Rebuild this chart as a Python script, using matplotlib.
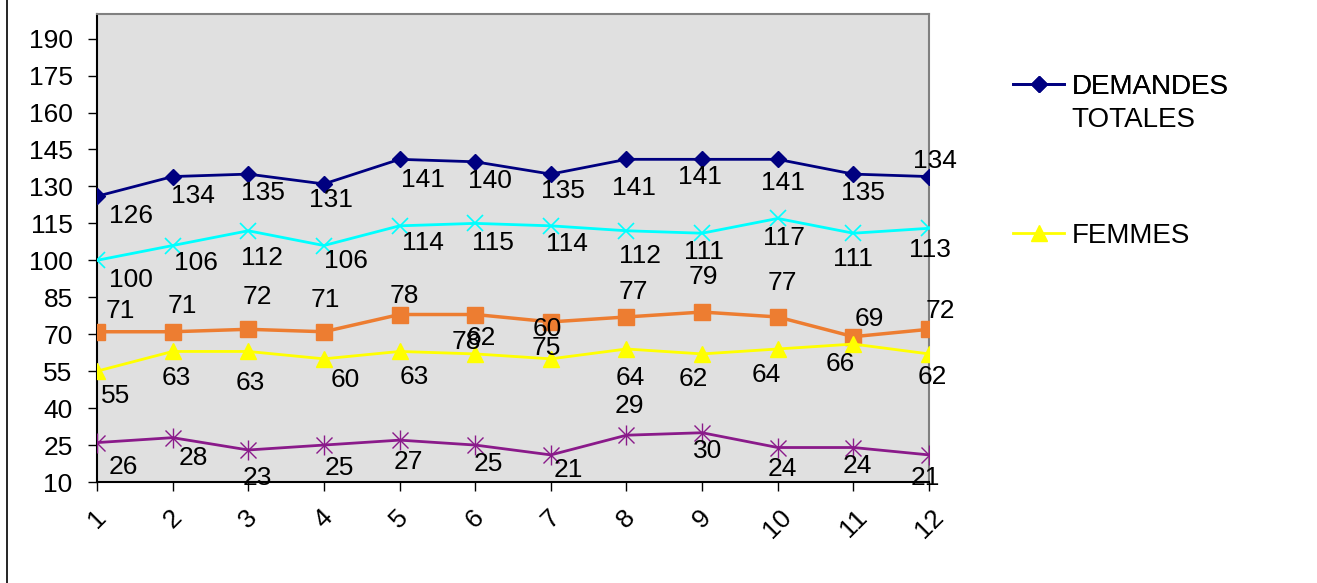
import numpy as np
import matplotlib
matplotlib.use('Agg')
import matplotlib.pyplot as plt
from matplotlib.lines import Line2D

plt.rcParams['font.family'] = ['Liberation Sans', 'DejaVu Sans']

# --- data -------------------------------------------------------------
months = [1, 2, 3, 4, 5, 6, 7, 8, 9, 10, 11, 12]
totales = [126, 134, 135, 131, 141, 140, 135, 141, 141, 141, 135, 134]
hommes = [100, 106, 112, 106, 114, 115, 114, 112, 111, 117, 111, 113]
serie_orange = [71, 71, 72, 71, 78, 78, 75, 77, 79, 77, 69, 72]
femmes = [55, 63, 63, 60, 63, 62, 60, 64, 62, 64, 66, 62]
serie_violet = [26, 28, 23, 25, 27, 25, 21, 29, 30, 24, 24, 21]
y_ticks = list(range(10, 191, 15))

# label offsets in pixels (dx right, dy down) -- layout only
off_tot = [(34, 20), (20, 19), (15, 19), (7, 16), (23, 21), (15, 19),
           (12, 17), (7, 29), (-2, 18), (5, 24), (10, 19), (6, -16)]
off_hom = [(34, 20), (23, 17), (14, 27), (22, 15), (23, 17), (18, 20),
           (16, 18), (14, 25), (2, 19), (6, 20), (0, 26), (1, 22)]
off_ora = [(23, -21), (10, -26), (9, -32), (1, -32), (5, -19), (-9, 27),
           (-5, 26), (7, -25), (1, -35), (5, -34), (16, -18), (11, -18)]
off_fem = [(19, 25), (4, 27), (2, 32), (21, 21), (15, 26), (6, -16),
           (-4, -30), (4, 29), (-9, 25), (-11, 26), (-13, 20), (3, 23)]
off_vio = [(26, 24), (21, 20), (9, 28), (15, 23), (9, 22), (13, 19),
           (17, 15), (3, -29), (6, 18), (5, 21), (4, 18), (-4, 23)]

FS = 19
LFS = 20
fig = plt.figure(figsize=(13.17, 5.83), dpi=100, facecolor='white')
ax = fig.add_axes([97 / 1317, 101 / 583, 832 / 1317, 468 / 583])
ax.set_facecolor('#e0e0e0')

lw = 2.0
h_tot, = ax.plot(months, totales, color='#000080', lw=lw, marker='D', ms=8,
                 mfc='#000080', mec='#000080', zorder=5)
ax.plot(months, hommes, color='#00ffff', lw=lw, marker='x', ms=11,
        mew=1.2, zorder=4)
ax.plot(months, serie_orange, color='#ed7d31', lw=2.5, marker='s', ms=11,
        mfc='#ed7d31', mec='#ed7d31', zorder=4)
h_fem, = ax.plot(months, femmes, color='#ffff00', lw=lw, marker='^', ms=12,
                 mfc='#ffff00', mec='#ffff00', zorder=4)
ax.plot(months, serie_violet, color='#8a1a8a', lw=lw, marker='x', ms=11,
        mew=1.0, zorder=4)
ax.plot(months, serie_violet, ls='none', color='#8a1a8a', marker='|', ms=14,
        mew=1.0, zorder=4)

for vals, offs in [(totales, off_tot), (hommes, off_hom), (serie_orange, off_ora),
                   (femmes, off_fem), (serie_violet, off_vio)]:
    for x, v, (dx, dy) in zip(months, vals, offs):
        ax.annotate(str(v), (x, v), xytext=(dx, -dy), textcoords='offset pixels',
                    ha='center', va='center', fontsize=FS, color='black',
                    zorder=6, annotation_clip=False)

ax.set_xlim(1, 12)
ax.set_ylim(10, 200)
ax.set_xticks(months)
ax.set_xticklabels([str(m) for m in months], rotation=45, ha='center',
                   fontsize=FS)
ax.set_yticks(y_ticks)
ax.set_yticklabels([str(t) for t in y_ticks], fontsize=FS)
ax.tick_params(axis='y', length=6.5, width=1, pad=11, direction='out')
ax.tick_params(axis='x', length=6.5, width=1, pad=10, direction='out')
for s in ['left', 'bottom']:
    ax.spines[s].set_color('black')
    ax.spines[s].set_linewidth(1.5)
for s in ['top', 'right']:
    ax.spines[s].set_color('#808080')
    ax.spines[s].set_linewidth(1.5)

# legend (two visible entries)
leg1 = fig.legend(handles=[h_tot], labels=['DEMANDES'], loc='center left',
                  bbox_to_anchor=(1013 / 1317, 1 - 87 / 583), frameon=False,
                  fontsize=LFS, handlelength=1.85, handletextpad=0.25,
                  borderpad=0, borderaxespad=0)
fig.text(1071 / 1317, 1 - 120 / 583, 'TOTALES', fontsize=LFS, va='center',
         ha='left')
fig.legend(handles=[h_fem], labels=['FEMMES'], loc='center left',
           bbox_to_anchor=(1013 / 1317, 1 - 236 / 583), frameon=False,
           fontsize=LFS, handlelength=1.85, handletextpad=0.25,
           borderpad=0, borderaxespad=0)
fig.add_artist(leg1)

# left border of the chart area
fig.add_artist(Line2D([7 / 1317, 7 / 1317], [0, 1], color='black', lw=1.2))

fig.savefig('out.png', dpi=100, facecolor='white')
